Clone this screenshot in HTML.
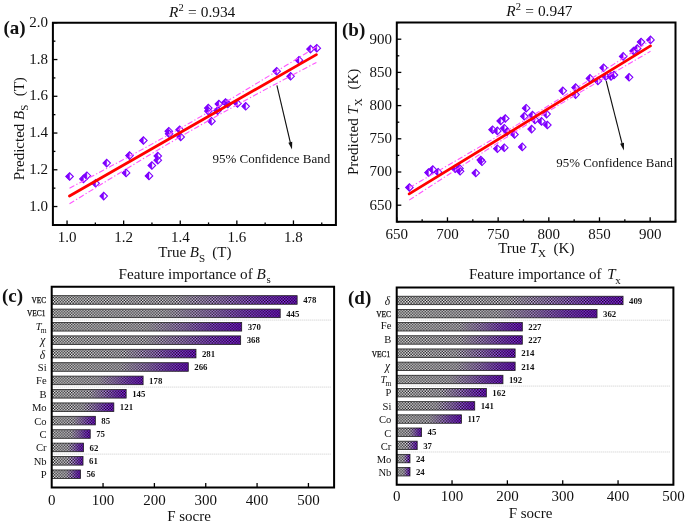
<!DOCTYPE html><html><head><meta charset="utf-8"><style>html,body{margin:0;padding:0;background:#fff;width:685px;height:523px;overflow:hidden}svg{display:block;will-change:transform}text{font-family:"Liberation Serif",serif;fill:#111}</style></head><body>
<svg width="685" height="523" viewBox="0 0 685 523">
<defs>
<pattern id="chk" x="0" y="0" width="2.84" height="2.84" patternUnits="userSpaceOnUse">
<rect x="0" y="0" width="1.42" height="1.42" fill="#000" fill-opacity="0.9"/>
<rect x="1.42" y="1.42" width="1.42" height="1.42" fill="#000" fill-opacity="0.9"/>
</pattern>
<linearGradient id="grad" x1="0" y1="0" x2="1" y2="0">
<stop offset="0" stop-color="#f6f6f6"/>
<stop offset="0.5" stop-color="#ece8f2"/>
<stop offset="0.7" stop-color="#c89cf6"/>
<stop offset="0.85" stop-color="#a450fb"/>
<stop offset="1" stop-color="#9018ff"/>
</linearGradient>
</defs>
<rect width="685" height="523" fill="#fff"/>
<path d="M65.85,176.5 L69.6,172.75 L73.35,176.5 L69.6,180.25 Z" fill="#fff" fill-opacity="0" stroke="#7f00ff" stroke-width="1.1"/>
<path d="M65.85,176.5 L69.6,172.75 L69.6,180.25 Z" fill="#7f00ff" stroke="#7f00ff" stroke-width="0.4"/>
<path d="M79.75,178.9 L83.5,175.15 L87.25,178.9 L83.5,182.65 Z" fill="#fff" fill-opacity="0" stroke="#7f00ff" stroke-width="1.1"/>
<path d="M79.75,178.9 L83.5,175.15 L83.5,182.65 Z" fill="#7f00ff" stroke="#7f00ff" stroke-width="0.4"/>
<path d="M83.15,175.7 L86.9,171.95 L90.65,175.7 L86.9,179.45 Z" fill="#fff" fill-opacity="0" stroke="#7f00ff" stroke-width="1.1"/>
<path d="M83.15,175.7 L86.9,171.95 L86.9,179.45 Z" fill="#7f00ff" stroke="#7f00ff" stroke-width="0.4"/>
<path d="M91.85,183.3 L95.6,179.55 L99.35,183.3 L95.6,187.05 Z" fill="#fff" fill-opacity="0" stroke="#7f00ff" stroke-width="1.1"/>
<path d="M91.85,183.3 L95.6,179.55 L95.6,187.05 Z" fill="#7f00ff" stroke="#7f00ff" stroke-width="0.4"/>
<path d="M99.95,196.1 L103.7,192.35 L107.45,196.1 L103.7,199.85 Z" fill="#fff" fill-opacity="0" stroke="#7f00ff" stroke-width="1.1"/>
<path d="M99.95,196.1 L103.7,192.35 L103.7,199.85 Z" fill="#7f00ff" stroke="#7f00ff" stroke-width="0.4"/>
<path d="M102.95,163.1 L106.7,159.35 L110.45,163.1 L106.7,166.85 Z" fill="#fff" fill-opacity="0" stroke="#7f00ff" stroke-width="1.1"/>
<path d="M102.95,163.1 L106.7,159.35 L106.7,166.85 Z" fill="#7f00ff" stroke="#7f00ff" stroke-width="0.4"/>
<path d="M122.35,172.9 L126.1,169.15 L129.85,172.9 L126.1,176.65 Z" fill="#fff" fill-opacity="0" stroke="#7f00ff" stroke-width="1.1"/>
<path d="M122.35,172.9 L126.1,169.15 L126.1,176.65 Z" fill="#7f00ff" stroke="#7f00ff" stroke-width="0.4"/>
<path d="M125.75,155.6 L129.5,151.85 L133.25,155.6 L129.5,159.35 Z" fill="#fff" fill-opacity="0" stroke="#7f00ff" stroke-width="1.1"/>
<path d="M125.75,155.6 L129.5,151.85 L129.5,159.35 Z" fill="#7f00ff" stroke="#7f00ff" stroke-width="0.4"/>
<path d="M139.65,140.5 L143.4,136.75 L147.15,140.5 L143.4,144.25 Z" fill="#fff" fill-opacity="0" stroke="#7f00ff" stroke-width="1.1"/>
<path d="M139.65,140.5 L143.4,136.75 L143.4,144.25 Z" fill="#7f00ff" stroke="#7f00ff" stroke-width="0.4"/>
<path d="M145.25,175.9 L149,172.15 L152.75,175.9 L149,179.65 Z" fill="#fff" fill-opacity="0" stroke="#7f00ff" stroke-width="1.1"/>
<path d="M145.25,175.9 L149,172.15 L149,179.65 Z" fill="#7f00ff" stroke="#7f00ff" stroke-width="0.4"/>
<path d="M148.15,165.5 L151.9,161.75 L155.65,165.5 L151.9,169.25 Z" fill="#fff" fill-opacity="0" stroke="#7f00ff" stroke-width="1.1"/>
<path d="M148.15,165.5 L151.9,161.75 L151.9,169.25 Z" fill="#7f00ff" stroke="#7f00ff" stroke-width="0.4"/>
<path d="M154.05,156 L157.8,152.25 L161.55,156 L157.8,159.75 Z" fill="#fff" fill-opacity="0" stroke="#7f00ff" stroke-width="1.1"/>
<path d="M154.05,156 L157.8,152.25 L157.8,159.75 Z" fill="#7f00ff" stroke="#7f00ff" stroke-width="0.4"/>
<path d="M154.05,160.2 L157.8,156.45 L161.55,160.2 L157.8,163.95 Z" fill="#fff" fill-opacity="0" stroke="#7f00ff" stroke-width="1.1"/>
<path d="M154.05,160.2 L157.8,156.45 L157.8,163.95 Z" fill="#7f00ff" stroke="#7f00ff" stroke-width="0.4"/>
<path d="M165.05,131.2 L168.8,127.45 L172.55,131.2 L168.8,134.95 Z" fill="#fff" fill-opacity="0" stroke="#7f00ff" stroke-width="1.1"/>
<path d="M165.05,131.2 L168.8,127.45 L168.8,134.95 Z" fill="#7f00ff" stroke="#7f00ff" stroke-width="0.4"/>
<path d="M165.35,133.8 L169.1,130.05 L172.85,133.8 L169.1,137.55 Z" fill="#fff" fill-opacity="0" stroke="#7f00ff" stroke-width="1.1"/>
<path d="M165.35,133.8 L169.1,130.05 L169.1,137.55 Z" fill="#7f00ff" stroke="#7f00ff" stroke-width="0.4"/>
<path d="M175.95,129.7 L179.7,125.95 L183.45,129.7 L179.7,133.45 Z" fill="#fff" fill-opacity="0" stroke="#7f00ff" stroke-width="1.1"/>
<path d="M175.95,129.7 L179.7,125.95 L179.7,133.45 Z" fill="#7f00ff" stroke="#7f00ff" stroke-width="0.4"/>
<path d="M176.95,137 L180.7,133.25 L184.45,137 L180.7,140.75 Z" fill="#fff" fill-opacity="0" stroke="#7f00ff" stroke-width="1.1"/>
<path d="M176.95,137 L180.7,133.25 L180.7,140.75 Z" fill="#7f00ff" stroke="#7f00ff" stroke-width="0.4"/>
<path d="M204.55,108.1 L208.3,104.35 L212.05,108.1 L208.3,111.85 Z" fill="#fff" fill-opacity="0" stroke="#7f00ff" stroke-width="1.1"/>
<path d="M204.55,108.1 L208.3,104.35 L208.3,111.85 Z" fill="#7f00ff" stroke="#7f00ff" stroke-width="0.4"/>
<path d="M204.65,111.1 L208.4,107.35 L212.15,111.1 L208.4,114.85 Z" fill="#fff" fill-opacity="0" stroke="#7f00ff" stroke-width="1.1"/>
<path d="M204.65,111.1 L208.4,107.35 L208.4,114.85 Z" fill="#7f00ff" stroke="#7f00ff" stroke-width="0.4"/>
<path d="M207.75,121.2 L211.5,117.45 L215.25,121.2 L211.5,124.95 Z" fill="#fff" fill-opacity="0" stroke="#7f00ff" stroke-width="1.1"/>
<path d="M207.75,121.2 L211.5,117.45 L211.5,124.95 Z" fill="#7f00ff" stroke="#7f00ff" stroke-width="0.4"/>
<path d="M213.85,110.6 L217.6,106.85 L221.35,110.6 L217.6,114.35 Z" fill="#fff" fill-opacity="0" stroke="#7f00ff" stroke-width="1.1"/>
<path d="M213.85,110.6 L217.6,106.85 L217.6,114.35 Z" fill="#7f00ff" stroke="#7f00ff" stroke-width="0.4"/>
<path d="M215.15,104 L218.9,100.25 L222.65,104 L218.9,107.75 Z" fill="#fff" fill-opacity="0" stroke="#7f00ff" stroke-width="1.1"/>
<path d="M215.15,104 L218.9,100.25 L218.9,107.75 Z" fill="#7f00ff" stroke="#7f00ff" stroke-width="0.4"/>
<path d="M221.75,102.5 L225.5,98.75 L229.25,102.5 L225.5,106.25 Z" fill="#fff" fill-opacity="0" stroke="#7f00ff" stroke-width="1.1"/>
<path d="M221.75,102.5 L225.5,98.75 L225.5,106.25 Z" fill="#7f00ff" stroke="#7f00ff" stroke-width="0.4"/>
<path d="M224.05,103.9 L227.8,100.15 L231.55,103.9 L227.8,107.65 Z" fill="#fff" fill-opacity="0" stroke="#7f00ff" stroke-width="1.1"/>
<path d="M224.05,103.9 L227.8,100.15 L227.8,107.65 Z" fill="#7f00ff" stroke="#7f00ff" stroke-width="0.4"/>
<path d="M233.75,103.5 L237.5,99.75 L241.25,103.5 L237.5,107.25 Z" fill="#fff" fill-opacity="0" stroke="#7f00ff" stroke-width="1.1"/>
<path d="M233.75,103.5 L237.5,99.75 L237.5,107.25 Z" fill="#7f00ff" stroke="#7f00ff" stroke-width="0.4"/>
<path d="M241.95,106.3 L245.7,102.55 L249.45,106.3 L245.7,110.05 Z" fill="#fff" fill-opacity="0" stroke="#7f00ff" stroke-width="1.1"/>
<path d="M241.95,106.3 L245.7,102.55 L245.7,110.05 Z" fill="#7f00ff" stroke="#7f00ff" stroke-width="0.4"/>
<path d="M272.95,71.2 L276.7,67.45 L280.45,71.2 L276.7,74.95 Z" fill="#fff" fill-opacity="0" stroke="#7f00ff" stroke-width="1.1"/>
<path d="M272.95,71.2 L276.7,67.45 L276.7,74.95 Z" fill="#7f00ff" stroke="#7f00ff" stroke-width="0.4"/>
<path d="M286.85,76.3 L290.6,72.55 L294.35,76.3 L290.6,80.05 Z" fill="#fff" fill-opacity="0" stroke="#7f00ff" stroke-width="1.1"/>
<path d="M286.85,76.3 L290.6,72.55 L290.6,80.05 Z" fill="#7f00ff" stroke="#7f00ff" stroke-width="0.4"/>
<path d="M295.25,60.2 L299,56.45 L302.75,60.2 L299,63.95 Z" fill="#fff" fill-opacity="0" stroke="#7f00ff" stroke-width="1.1"/>
<path d="M295.25,60.2 L299,56.45 L299,63.95 Z" fill="#7f00ff" stroke="#7f00ff" stroke-width="0.4"/>
<path d="M306.75,49.1 L310.5,45.35 L314.25,49.1 L310.5,52.85 Z" fill="#fff" fill-opacity="0" stroke="#7f00ff" stroke-width="1.1"/>
<path d="M306.75,49.1 L310.5,45.35 L310.5,52.85 Z" fill="#7f00ff" stroke="#7f00ff" stroke-width="0.4"/>
<path d="M313.05,48.2 L316.8,44.45 L320.55,48.2 L316.8,51.95 Z" fill="#fff" fill-opacity="0" stroke="#7f00ff" stroke-width="1.1"/>
<path d="M313.05,48.2 L316.8,44.45 L316.8,51.95 Z" fill="#7f00ff" stroke="#7f00ff" stroke-width="0.4"/>
<path d="M69.5,188.2 L73.61,186.03 L77.73,183.85 L81.84,181.67 L85.96,179.5 L90.08,177.31 L94.19,175.13 L98.3,172.94 L102.42,170.75 L106.53,168.56 L110.65,166.36 L114.76,164.16 L118.88,161.96 L123,159.75 L127.11,157.54 L131.22,155.32 L135.34,153.09 L139.45,150.86 L143.57,148.62 L147.69,146.38 L151.8,144.13 L155.91,141.87 L160.03,139.6 L164.14,137.32 L168.26,135.04 L172.38,132.74 L176.49,130.44 L180.6,128.12 L184.72,125.79 L188.83,123.45 L192.95,121.1 L197.06,118.74 L201.18,116.36 L205.29,113.98 L209.41,111.58 L213.53,109.18 L217.64,106.76 L221.75,104.33 L225.87,101.9 L229.98,99.45 L234.1,97 L238.22,94.54 L242.33,92.07 L246.44,89.59 L250.56,87.11 L254.67,84.62 L258.79,82.13 L262.9,79.63 L267.02,77.12 L271.13,74.61 L275.25,72.1 L279.37,69.58 L283.48,67.06 L287.59,64.54 L291.71,62.01 L295.82,59.49 L299.94,56.95 L304.05,54.42 L308.17,51.88 L312.28,49.34 L316.4,46.8" fill="none" stroke="#ff55ff" stroke-width="1.1" stroke-dasharray="5.5,2.2,1.3,2.2"/>
<path d="M69.5,203.8 L73.61,201.26 L77.73,198.72 L81.84,196.19 L85.96,193.65 L90.08,191.12 L94.19,188.59 L98.3,186.06 L102.42,183.54 L106.53,181.02 L110.65,178.5 L114.76,175.99 L118.88,173.48 L123,170.98 L127.11,168.48 L131.22,165.98 L135.34,163.49 L139.45,161.01 L143.57,158.54 L147.69,156.07 L151.8,153.6 L155.91,151.15 L160.03,148.71 L164.14,146.27 L168.26,143.84 L172.38,141.42 L176.49,139.02 L180.6,136.62 L184.72,134.24 L188.83,131.86 L192.95,129.5 L197.06,127.15 L201.18,124.81 L205.29,122.48 L209.41,120.16 L213.53,117.86 L217.64,115.56 L221.75,113.27 L225.87,111 L229.98,108.73 L234.1,106.47 L238.22,104.22 L242.33,101.97 L246.44,99.74 L250.56,97.51 L254.67,95.28 L258.79,93.06 L262.9,90.85 L267.02,88.64 L271.13,86.43 L275.25,84.23 L279.37,82.04 L283.48,79.84 L287.59,77.65 L291.71,75.47 L295.82,73.28 L299.94,71.1 L304.05,68.92 L308.17,66.74 L312.28,64.57 L316.4,62.4" fill="none" stroke="#ff55ff" stroke-width="1.1" stroke-dasharray="5.5,2.2,1.3,2.2"/>
<line x1="69.5" y1="196" x2="316.4" y2="54.6" stroke="#ff0000" stroke-width="2.8" stroke-linecap="round"/>
<line x1="67.05" y1="224.9" x2="67.05" y2="220.4" stroke="#000" stroke-width="1.3" />
<line x1="95.35" y1="224.9" x2="95.35" y2="222.4" stroke="#000" stroke-width="1.3" />
<line x1="123.65" y1="224.9" x2="123.65" y2="220.4" stroke="#000" stroke-width="1.3" />
<line x1="151.95" y1="224.9" x2="151.95" y2="222.4" stroke="#000" stroke-width="1.3" />
<line x1="180.25" y1="224.9" x2="180.25" y2="220.4" stroke="#000" stroke-width="1.3" />
<line x1="208.55" y1="224.9" x2="208.55" y2="222.4" stroke="#000" stroke-width="1.3" />
<line x1="236.85" y1="224.9" x2="236.85" y2="220.4" stroke="#000" stroke-width="1.3" />
<line x1="265.15" y1="224.9" x2="265.15" y2="222.4" stroke="#000" stroke-width="1.3" />
<line x1="293.45" y1="224.9" x2="293.45" y2="220.4" stroke="#000" stroke-width="1.3" />
<line x1="321.75" y1="224.9" x2="321.75" y2="222.4" stroke="#000" stroke-width="1.3" />
<line x1="52.9" y1="224.9" x2="55.4" y2="224.9" stroke="#000" stroke-width="1.3" />
<line x1="52.9" y1="206.53" x2="57.4" y2="206.53" stroke="#000" stroke-width="1.3" />
<line x1="52.9" y1="188.15" x2="55.4" y2="188.15" stroke="#000" stroke-width="1.3" />
<line x1="52.9" y1="169.78" x2="57.4" y2="169.78" stroke="#000" stroke-width="1.3" />
<line x1="52.9" y1="151.41" x2="55.4" y2="151.41" stroke="#000" stroke-width="1.3" />
<line x1="52.9" y1="133.04" x2="57.4" y2="133.04" stroke="#000" stroke-width="1.3" />
<line x1="52.9" y1="114.66" x2="55.4" y2="114.66" stroke="#000" stroke-width="1.3" />
<line x1="52.9" y1="96.29" x2="57.4" y2="96.29" stroke="#000" stroke-width="1.3" />
<line x1="52.9" y1="77.92" x2="55.4" y2="77.92" stroke="#000" stroke-width="1.3" />
<line x1="52.9" y1="59.55" x2="57.4" y2="59.55" stroke="#000" stroke-width="1.3" />
<line x1="52.9" y1="41.17" x2="55.4" y2="41.17" stroke="#000" stroke-width="1.3" />
<line x1="52.9" y1="22.8" x2="57.4" y2="22.8" stroke="#000" stroke-width="1.3" />
<path d="M52.9,22.8 H335.9 V224.9 H52.9 Z" fill="none" stroke="#000" stroke-width="2"/>
<text x="67.05" y="242" font-size="15" text-anchor="middle" font-weight="normal" font-style="normal" >1.0</text>
<text x="123.65" y="242" font-size="15" text-anchor="middle" font-weight="normal" font-style="normal" >1.2</text>
<text x="180.25" y="242" font-size="15" text-anchor="middle" font-weight="normal" font-style="normal" >1.4</text>
<text x="236.85" y="242" font-size="15" text-anchor="middle" font-weight="normal" font-style="normal" >1.6</text>
<text x="293.45" y="242" font-size="15" text-anchor="middle" font-weight="normal" font-style="normal" >1.8</text>
<text x="48" y="210.53" font-size="15" text-anchor="end" font-weight="normal" font-style="normal" >1.0</text>
<text x="48" y="173.78" font-size="15" text-anchor="end" font-weight="normal" font-style="normal" >1.2</text>
<text x="48" y="137.04" font-size="15" text-anchor="end" font-weight="normal" font-style="normal" >1.4</text>
<text x="48" y="100.29" font-size="15" text-anchor="end" font-weight="normal" font-style="normal" >1.6</text>
<text x="48" y="63.55" font-size="15" text-anchor="end" font-weight="normal" font-style="normal" >1.8</text>
<text x="48" y="26.8" font-size="15" text-anchor="end" font-weight="normal" font-style="normal" >2.0</text>
<text x="3.5" y="34" font-size="19" text-anchor="start" font-weight="bold" font-style="normal" >(a)</text>
<text y="17" font-size="15.4"><tspan x="169.1" font-style="italic">R</tspan><tspan x="178.5" y="11.4" font-size="10.5">2</tspan><tspan x="188.1" y="17">=</tspan><tspan x="200.7">0.934</tspan></text>
<text x="158.3" y="257.4" font-size="15">True <tspan font-style="italic">B</tspan><tspan font-size="11" dy="4.2">S</tspan><tspan dy="-4.2" x="212.3">(T)</tspan></text>
<text transform="translate(23.5,180.3) rotate(-90)" x="0" y="0" font-size="15">Predicted <tspan font-style="italic">B</tspan><tspan font-size="11" dy="4">S</tspan><tspan dy="-4" x="84">(T)</tspan></text>
<text x="212.5" y="162.9" font-size="13" text-anchor="start" font-weight="normal" font-style="normal" >95% Confidence Band</text>
<line x1="276.9" y1="85.3" x2="290.74" y2="144.25" stroke="#111" stroke-width="1.1"/>
<path d="M292,149.6 L292.23,141.84 L288.34,142.76 Z" fill="#111"/>
<path d="M405.65,187.5 L409.4,183.75 L413.15,187.5 L409.4,191.25 Z" fill="#fff" fill-opacity="0" stroke="#7f00ff" stroke-width="1.1"/>
<path d="M405.65,187.5 L409.4,183.75 L409.4,191.25 Z" fill="#7f00ff" stroke="#7f00ff" stroke-width="0.4"/>
<path d="M424.75,172.6 L428.5,168.85 L432.25,172.6 L428.5,176.35 Z" fill="#fff" fill-opacity="0" stroke="#7f00ff" stroke-width="1.1"/>
<path d="M424.75,172.6 L428.5,168.85 L428.5,176.35 Z" fill="#7f00ff" stroke="#7f00ff" stroke-width="0.4"/>
<path d="M429.05,169.5 L432.8,165.75 L436.55,169.5 L432.8,173.25 Z" fill="#fff" fill-opacity="0" stroke="#7f00ff" stroke-width="1.1"/>
<path d="M429.05,169.5 L432.8,165.75 L432.8,173.25 Z" fill="#7f00ff" stroke="#7f00ff" stroke-width="0.4"/>
<path d="M434.45,172.2 L438.2,168.45 L441.95,172.2 L438.2,175.95 Z" fill="#fff" fill-opacity="0" stroke="#7f00ff" stroke-width="1.1"/>
<path d="M434.45,172.2 L438.2,168.45 L438.2,175.95 Z" fill="#7f00ff" stroke="#7f00ff" stroke-width="0.4"/>
<path d="M451.45,168.7 L455.2,164.95 L458.95,168.7 L455.2,172.45 Z" fill="#fff" fill-opacity="0" stroke="#7f00ff" stroke-width="1.1"/>
<path d="M451.45,168.7 L455.2,164.95 L455.2,172.45 Z" fill="#7f00ff" stroke="#7f00ff" stroke-width="0.4"/>
<path d="M455.75,168.4 L459.5,164.65 L463.25,168.4 L459.5,172.15 Z" fill="#fff" fill-opacity="0" stroke="#7f00ff" stroke-width="1.1"/>
<path d="M455.75,168.4 L459.5,164.65 L459.5,172.15 Z" fill="#7f00ff" stroke="#7f00ff" stroke-width="0.4"/>
<path d="M456.35,171.3 L460.1,167.55 L463.85,171.3 L460.1,175.05 Z" fill="#fff" fill-opacity="0" stroke="#7f00ff" stroke-width="1.1"/>
<path d="M456.35,171.3 L460.1,167.55 L460.1,175.05 Z" fill="#7f00ff" stroke="#7f00ff" stroke-width="0.4"/>
<path d="M472.05,173 L475.8,169.25 L479.55,173 L475.8,176.75 Z" fill="#fff" fill-opacity="0" stroke="#7f00ff" stroke-width="1.1"/>
<path d="M472.05,173 L475.8,169.25 L475.8,176.75 Z" fill="#7f00ff" stroke="#7f00ff" stroke-width="0.4"/>
<path d="M477.05,160 L480.8,156.25 L484.55,160 L480.8,163.75 Z" fill="#fff" fill-opacity="0" stroke="#7f00ff" stroke-width="1.1"/>
<path d="M477.05,160 L480.8,156.25 L480.8,163.75 Z" fill="#7f00ff" stroke="#7f00ff" stroke-width="0.4"/>
<path d="M478.25,161.8 L482,158.05 L485.75,161.8 L482,165.55 Z" fill="#fff" fill-opacity="0" stroke="#7f00ff" stroke-width="1.1"/>
<path d="M478.25,161.8 L482,158.05 L482,165.55 Z" fill="#7f00ff" stroke="#7f00ff" stroke-width="0.4"/>
<path d="M488.85,129.7 L492.6,125.95 L496.35,129.7 L492.6,133.45 Z" fill="#fff" fill-opacity="0" stroke="#7f00ff" stroke-width="1.1"/>
<path d="M488.85,129.7 L492.6,125.95 L492.6,133.45 Z" fill="#7f00ff" stroke="#7f00ff" stroke-width="0.4"/>
<path d="M493.65,130.9 L497.4,127.15 L501.15,130.9 L497.4,134.65 Z" fill="#fff" fill-opacity="0" stroke="#7f00ff" stroke-width="1.1"/>
<path d="M493.65,130.9 L497.4,127.15 L497.4,134.65 Z" fill="#7f00ff" stroke="#7f00ff" stroke-width="0.4"/>
<path d="M496.95,121 L500.7,117.25 L504.45,121 L500.7,124.75 Z" fill="#fff" fill-opacity="0" stroke="#7f00ff" stroke-width="1.1"/>
<path d="M496.95,121 L500.7,117.25 L500.7,124.75 Z" fill="#7f00ff" stroke="#7f00ff" stroke-width="0.4"/>
<path d="M501.55,118.5 L505.3,114.75 L509.05,118.5 L505.3,122.25 Z" fill="#fff" fill-opacity="0" stroke="#7f00ff" stroke-width="1.1"/>
<path d="M501.55,118.5 L505.3,114.75 L505.3,122.25 Z" fill="#7f00ff" stroke="#7f00ff" stroke-width="0.4"/>
<path d="M500.55,128.2 L504.3,124.45 L508.05,128.2 L504.3,131.95 Z" fill="#fff" fill-opacity="0" stroke="#7f00ff" stroke-width="1.1"/>
<path d="M500.55,128.2 L504.3,124.45 L504.3,131.95 Z" fill="#7f00ff" stroke="#7f00ff" stroke-width="0.4"/>
<path d="M503.45,131.6 L507.2,127.85 L510.95,131.6 L507.2,135.35 Z" fill="#fff" fill-opacity="0" stroke="#7f00ff" stroke-width="1.1"/>
<path d="M503.45,131.6 L507.2,127.85 L507.2,135.35 Z" fill="#7f00ff" stroke="#7f00ff" stroke-width="0.4"/>
<path d="M510.75,134.5 L514.5,130.75 L518.25,134.5 L514.5,138.25 Z" fill="#fff" fill-opacity="0" stroke="#7f00ff" stroke-width="1.1"/>
<path d="M510.75,134.5 L514.5,130.75 L514.5,138.25 Z" fill="#7f00ff" stroke="#7f00ff" stroke-width="0.4"/>
<path d="M493.65,148.7 L497.4,144.95 L501.15,148.7 L497.4,152.45 Z" fill="#fff" fill-opacity="0" stroke="#7f00ff" stroke-width="1.1"/>
<path d="M493.65,148.7 L497.4,144.95 L497.4,152.45 Z" fill="#7f00ff" stroke="#7f00ff" stroke-width="0.4"/>
<path d="M500.55,147.7 L504.3,143.95 L508.05,147.7 L504.3,151.45 Z" fill="#fff" fill-opacity="0" stroke="#7f00ff" stroke-width="1.1"/>
<path d="M500.55,147.7 L504.3,143.95 L504.3,151.45 Z" fill="#7f00ff" stroke="#7f00ff" stroke-width="0.4"/>
<path d="M518.55,146.9 L522.3,143.15 L526.05,146.9 L522.3,150.65 Z" fill="#fff" fill-opacity="0" stroke="#7f00ff" stroke-width="1.1"/>
<path d="M518.55,146.9 L522.3,143.15 L522.3,150.65 Z" fill="#7f00ff" stroke="#7f00ff" stroke-width="0.4"/>
<path d="M522.45,108.2 L526.2,104.45 L529.95,108.2 L526.2,111.95 Z" fill="#fff" fill-opacity="0" stroke="#7f00ff" stroke-width="1.1"/>
<path d="M522.45,108.2 L526.2,104.45 L526.2,111.95 Z" fill="#7f00ff" stroke="#7f00ff" stroke-width="0.4"/>
<path d="M520.55,116.3 L524.3,112.55 L528.05,116.3 L524.3,120.05 Z" fill="#fff" fill-opacity="0" stroke="#7f00ff" stroke-width="1.1"/>
<path d="M520.55,116.3 L524.3,112.55 L524.3,120.05 Z" fill="#7f00ff" stroke="#7f00ff" stroke-width="0.4"/>
<path d="M528.75,115.1 L532.5,111.35 L536.25,115.1 L532.5,118.85 Z" fill="#fff" fill-opacity="0" stroke="#7f00ff" stroke-width="1.1"/>
<path d="M528.75,115.1 L532.5,111.35 L532.5,118.85 Z" fill="#7f00ff" stroke="#7f00ff" stroke-width="0.4"/>
<path d="M531.25,119.9 L535,116.15 L538.75,119.9 L535,123.65 Z" fill="#fff" fill-opacity="0" stroke="#7f00ff" stroke-width="1.1"/>
<path d="M531.25,119.9 L535,116.15 L535,123.65 Z" fill="#7f00ff" stroke="#7f00ff" stroke-width="0.4"/>
<path d="M527.85,129.1 L531.6,125.35 L535.35,129.1 L531.6,132.85 Z" fill="#fff" fill-opacity="0" stroke="#7f00ff" stroke-width="1.1"/>
<path d="M527.85,129.1 L531.6,125.35 L531.6,132.85 Z" fill="#7f00ff" stroke="#7f00ff" stroke-width="0.4"/>
<path d="M537.75,121.4 L541.5,117.65 L545.25,121.4 L541.5,125.15 Z" fill="#fff" fill-opacity="0" stroke="#7f00ff" stroke-width="1.1"/>
<path d="M537.75,121.4 L541.5,117.65 L541.5,125.15 Z" fill="#7f00ff" stroke="#7f00ff" stroke-width="0.4"/>
<path d="M542.85,114.1 L546.6,110.35 L550.35,114.1 L546.6,117.85 Z" fill="#fff" fill-opacity="0" stroke="#7f00ff" stroke-width="1.1"/>
<path d="M542.85,114.1 L546.6,110.35 L546.6,117.85 Z" fill="#7f00ff" stroke="#7f00ff" stroke-width="0.4"/>
<path d="M543.65,125 L547.4,121.25 L551.15,125 L547.4,128.75 Z" fill="#fff" fill-opacity="0" stroke="#7f00ff" stroke-width="1.1"/>
<path d="M543.65,125 L547.4,121.25 L547.4,128.75 Z" fill="#7f00ff" stroke="#7f00ff" stroke-width="0.4"/>
<path d="M559.05,90.8 L562.8,87.05 L566.55,90.8 L562.8,94.55 Z" fill="#fff" fill-opacity="0" stroke="#7f00ff" stroke-width="1.1"/>
<path d="M559.05,90.8 L562.8,87.05 L562.8,94.55 Z" fill="#7f00ff" stroke="#7f00ff" stroke-width="0.4"/>
<path d="M571.85,87.6 L575.6,83.85 L579.35,87.6 L575.6,91.35 Z" fill="#fff" fill-opacity="0" stroke="#7f00ff" stroke-width="1.1"/>
<path d="M571.85,87.6 L575.6,83.85 L575.6,91.35 Z" fill="#7f00ff" stroke="#7f00ff" stroke-width="0.4"/>
<path d="M571.85,94.6 L575.6,90.85 L579.35,94.6 L575.6,98.35 Z" fill="#fff" fill-opacity="0" stroke="#7f00ff" stroke-width="1.1"/>
<path d="M571.85,94.6 L575.6,90.85 L575.6,98.35 Z" fill="#7f00ff" stroke="#7f00ff" stroke-width="0.4"/>
<path d="M586.25,78.4 L590,74.65 L593.75,78.4 L590,82.15 Z" fill="#fff" fill-opacity="0" stroke="#7f00ff" stroke-width="1.1"/>
<path d="M586.25,78.4 L590,74.65 L590,82.15 Z" fill="#7f00ff" stroke="#7f00ff" stroke-width="0.4"/>
<path d="M594.15,81 L597.9,77.25 L601.65,81 L597.9,84.75 Z" fill="#fff" fill-opacity="0" stroke="#7f00ff" stroke-width="1.1"/>
<path d="M594.15,81 L597.9,77.25 L597.9,84.75 Z" fill="#7f00ff" stroke="#7f00ff" stroke-width="0.4"/>
<path d="M599.85,67.8 L603.6,64.05 L607.35,67.8 L603.6,71.55 Z" fill="#fff" fill-opacity="0" stroke="#7f00ff" stroke-width="1.1"/>
<path d="M599.85,67.8 L603.6,64.05 L603.6,71.55 Z" fill="#7f00ff" stroke="#7f00ff" stroke-width="0.4"/>
<path d="M602.05,76.5 L605.8,72.75 L609.55,76.5 L605.8,80.25 Z" fill="#fff" fill-opacity="0" stroke="#7f00ff" stroke-width="1.1"/>
<path d="M602.05,76.5 L605.8,72.75 L605.8,80.25 Z" fill="#7f00ff" stroke="#7f00ff" stroke-width="0.4"/>
<path d="M607.25,76.4 L611,72.65 L614.75,76.4 L611,80.15 Z" fill="#fff" fill-opacity="0" stroke="#7f00ff" stroke-width="1.1"/>
<path d="M607.25,76.4 L611,72.65 L611,80.15 Z" fill="#7f00ff" stroke="#7f00ff" stroke-width="0.4"/>
<path d="M610.25,75 L614,71.25 L617.75,75 L614,78.75 Z" fill="#fff" fill-opacity="0" stroke="#7f00ff" stroke-width="1.1"/>
<path d="M610.25,75 L614,71.25 L614,78.75 Z" fill="#7f00ff" stroke="#7f00ff" stroke-width="0.4"/>
<path d="M619.45,56.4 L623.2,52.65 L626.95,56.4 L623.2,60.15 Z" fill="#fff" fill-opacity="0" stroke="#7f00ff" stroke-width="1.1"/>
<path d="M619.45,56.4 L623.2,52.65 L623.2,60.15 Z" fill="#7f00ff" stroke="#7f00ff" stroke-width="0.4"/>
<path d="M625.35,77.3 L629.1,73.55 L632.85,77.3 L629.1,81.05 Z" fill="#fff" fill-opacity="0" stroke="#7f00ff" stroke-width="1.1"/>
<path d="M625.35,77.3 L629.1,73.55 L629.1,81.05 Z" fill="#7f00ff" stroke="#7f00ff" stroke-width="0.4"/>
<path d="M629.85,51 L633.6,47.25 L637.35,51 L633.6,54.75 Z" fill="#fff" fill-opacity="0" stroke="#7f00ff" stroke-width="1.1"/>
<path d="M629.85,51 L633.6,47.25 L633.6,54.75 Z" fill="#7f00ff" stroke="#7f00ff" stroke-width="0.4"/>
<path d="M633.45,48.5 L637.2,44.75 L640.95,48.5 L637.2,52.25 Z" fill="#fff" fill-opacity="0" stroke="#7f00ff" stroke-width="1.1"/>
<path d="M633.45,48.5 L637.2,44.75 L637.2,52.25 Z" fill="#7f00ff" stroke="#7f00ff" stroke-width="0.4"/>
<path d="M637.35,42 L641.1,38.25 L644.85,42 L641.1,45.75 Z" fill="#fff" fill-opacity="0" stroke="#7f00ff" stroke-width="1.1"/>
<path d="M637.35,42 L641.1,38.25 L641.1,45.75 Z" fill="#7f00ff" stroke="#7f00ff" stroke-width="0.4"/>
<path d="M646.75,39.9 L650.5,36.15 L654.25,39.9 L650.5,43.65 Z" fill="#fff" fill-opacity="0" stroke="#7f00ff" stroke-width="1.1"/>
<path d="M646.75,39.9 L650.5,36.15 L650.5,43.65 Z" fill="#7f00ff" stroke="#7f00ff" stroke-width="0.4"/>
<path d="M409.2,187.7 L413.22,185.38 L417.24,183.07 L421.26,180.75 L425.29,178.43 L429.31,176.11 L433.33,173.79 L437.35,171.47 L441.37,169.14 L445.39,166.82 L449.42,164.49 L453.44,162.16 L457.46,159.83 L461.48,157.49 L465.5,155.15 L469.52,152.81 L473.55,150.47 L477.57,148.12 L481.59,145.77 L485.61,143.41 L489.63,141.05 L493.65,138.68 L497.68,136.31 L501.7,133.93 L505.72,131.55 L509.74,129.15 L513.76,126.75 L517.78,124.35 L521.81,121.93 L525.83,119.5 L529.85,117.07 L533.87,114.62 L537.89,112.17 L541.91,109.7 L545.94,107.22 L549.96,104.74 L553.98,102.24 L558,99.73 L562.02,97.22 L566.04,94.69 L570.07,92.16 L574.09,89.62 L578.11,87.07 L582.13,84.51 L586.15,81.95 L590.17,79.39 L594.2,76.81 L598.22,74.24 L602.24,71.66 L606.26,69.07 L610.28,66.48 L614.31,63.89 L618.33,61.3 L622.35,58.7 L626.37,56.1 L630.39,53.49 L634.41,50.89 L638.43,48.28 L642.46,45.67 L646.48,43.06 L650.5,40.45" fill="none" stroke="#ff55ff" stroke-width="1.1" stroke-dasharray="5.5,2.2,1.3,2.2"/>
<path d="M409.2,200.1 L413.22,197.48 L417.24,194.87 L421.26,192.25 L425.29,189.63 L429.31,187.02 L433.33,184.41 L437.35,181.8 L441.37,179.19 L445.39,176.58 L449.42,173.98 L453.44,171.38 L457.46,168.77 L461.48,166.18 L465.5,163.58 L469.52,160.99 L473.55,158.4 L477.57,155.82 L481.59,153.23 L485.61,150.66 L489.63,148.08 L493.65,145.52 L497.68,142.96 L501.7,140.4 L505.72,137.85 L509.74,135.31 L513.76,132.78 L517.78,130.25 L521.81,127.74 L525.83,125.23 L529.85,122.73 L533.87,120.25 L537.89,117.77 L541.91,115.3 L545.94,112.84 L549.96,110.4 L553.98,107.96 L558,105.53 L562.02,103.12 L566.04,100.71 L570.07,98.31 L574.09,95.92 L578.11,93.53 L582.13,91.15 L586.15,88.78 L590.17,86.41 L594.2,84.05 L598.22,81.7 L602.24,79.34 L606.26,76.99 L610.28,74.65 L614.31,72.31 L618.33,69.97 L622.35,67.64 L626.37,65.3 L630.39,62.97 L634.41,60.64 L638.43,58.32 L642.46,55.99 L646.48,53.67 L650.5,51.35" fill="none" stroke="#ff55ff" stroke-width="1.1" stroke-dasharray="5.5,2.2,1.3,2.2"/>
<line x1="409.2" y1="193.9" x2="650.5" y2="45.9" stroke="#ff0000" stroke-width="2.8" stroke-linecap="round"/>
<line x1="396.8" y1="221.8" x2="396.8" y2="217.3" stroke="#000" stroke-width="1.3" />
<line x1="422.14" y1="221.8" x2="422.14" y2="219.3" stroke="#000" stroke-width="1.3" />
<line x1="447.47" y1="221.8" x2="447.47" y2="217.3" stroke="#000" stroke-width="1.3" />
<line x1="472.81" y1="221.8" x2="472.81" y2="219.3" stroke="#000" stroke-width="1.3" />
<line x1="498.15" y1="221.8" x2="498.15" y2="217.3" stroke="#000" stroke-width="1.3" />
<line x1="523.48" y1="221.8" x2="523.48" y2="219.3" stroke="#000" stroke-width="1.3" />
<line x1="548.82" y1="221.8" x2="548.82" y2="217.3" stroke="#000" stroke-width="1.3" />
<line x1="574.15" y1="221.8" x2="574.15" y2="219.3" stroke="#000" stroke-width="1.3" />
<line x1="599.49" y1="221.8" x2="599.49" y2="217.3" stroke="#000" stroke-width="1.3" />
<line x1="624.83" y1="221.8" x2="624.83" y2="219.3" stroke="#000" stroke-width="1.3" />
<line x1="650.16" y1="221.8" x2="650.16" y2="217.3" stroke="#000" stroke-width="1.3" />
<line x1="675.5" y1="221.8" x2="675.5" y2="219.3" stroke="#000" stroke-width="1.3" />
<line x1="396.8" y1="221.8" x2="399.3" y2="221.8" stroke="#000" stroke-width="1.3" />
<line x1="396.8" y1="205.2" x2="401.3" y2="205.2" stroke="#000" stroke-width="1.3" />
<line x1="396.8" y1="188.6" x2="399.3" y2="188.6" stroke="#000" stroke-width="1.3" />
<line x1="396.8" y1="172" x2="401.3" y2="172" stroke="#000" stroke-width="1.3" />
<line x1="396.8" y1="155.4" x2="399.3" y2="155.4" stroke="#000" stroke-width="1.3" />
<line x1="396.8" y1="138.8" x2="401.3" y2="138.8" stroke="#000" stroke-width="1.3" />
<line x1="396.8" y1="122.2" x2="399.3" y2="122.2" stroke="#000" stroke-width="1.3" />
<line x1="396.8" y1="105.6" x2="401.3" y2="105.6" stroke="#000" stroke-width="1.3" />
<line x1="396.8" y1="89" x2="399.3" y2="89" stroke="#000" stroke-width="1.3" />
<line x1="396.8" y1="72.4" x2="401.3" y2="72.4" stroke="#000" stroke-width="1.3" />
<line x1="396.8" y1="55.8" x2="399.3" y2="55.8" stroke="#000" stroke-width="1.3" />
<line x1="396.8" y1="39.2" x2="401.3" y2="39.2" stroke="#000" stroke-width="1.3" />
<line x1="396.8" y1="22.6" x2="399.3" y2="22.6" stroke="#000" stroke-width="1.3" />
<path d="M396.8,22.6 H675.5 V221.8 H396.8 Z" fill="none" stroke="#000" stroke-width="2"/>
<text x="396.8" y="238.5" font-size="15" text-anchor="middle" font-weight="normal" font-style="normal" >650</text>
<text x="447.47" y="238.5" font-size="15" text-anchor="middle" font-weight="normal" font-style="normal" >700</text>
<text x="498.15" y="238.5" font-size="15" text-anchor="middle" font-weight="normal" font-style="normal" >750</text>
<text x="548.82" y="238.5" font-size="15" text-anchor="middle" font-weight="normal" font-style="normal" >800</text>
<text x="599.49" y="238.5" font-size="15" text-anchor="middle" font-weight="normal" font-style="normal" >850</text>
<text x="650.16" y="238.5" font-size="15" text-anchor="middle" font-weight="normal" font-style="normal" >900</text>
<text x="392" y="209.5" font-size="15" text-anchor="end" font-weight="normal" font-style="normal" >650</text>
<text x="392" y="176.3" font-size="15" text-anchor="end" font-weight="normal" font-style="normal" >700</text>
<text x="392" y="143.1" font-size="15" text-anchor="end" font-weight="normal" font-style="normal" >750</text>
<text x="392" y="109.9" font-size="15" text-anchor="end" font-weight="normal" font-style="normal" >800</text>
<text x="392" y="76.7" font-size="15" text-anchor="end" font-weight="normal" font-style="normal" >850</text>
<text x="392" y="43.5" font-size="15" text-anchor="end" font-weight="normal" font-style="normal" >900</text>
<text x="342" y="35.5" font-size="19" text-anchor="start" font-weight="bold" font-style="normal" >(b)</text>
<text y="15.8" font-size="15.4"><tspan x="506.3" font-style="italic">R</tspan><tspan x="515.7" y="10.2" font-size="10.5">2</tspan><tspan x="525.3" y="15.8">=</tspan><tspan x="537.9">0.947</tspan></text>
<text x="498.2" y="253" font-size="15">True <tspan font-style="italic">T</tspan><tspan font-size="11" dy="4.2">X</tspan><tspan dy="-4.2" x="553.6">(K)</tspan></text>
<text transform="translate(358.2,175) rotate(-90)" x="0" y="0" font-size="15">Predicted <tspan font-style="italic">T</tspan><tspan font-size="11" dy="4">X</tspan><tspan dy="-4" x="85.5">(K)</tspan></text>
<text x="556.3" y="167" font-size="12.9" text-anchor="start" font-weight="normal" font-style="normal" >95% Confidence Band</text>
<line x1="606.2" y1="81" x2="622.54" y2="145.27" stroke="#111" stroke-width="1.1"/>
<path d="M623.9,150.6 L623.99,142.84 L620.11,143.82 Z" fill="#111"/>
<line x1="51.7" y1="320.08" x2="331.1" y2="320.08" stroke="#c4c4c4" stroke-width="0.9" stroke-dasharray="1,1"/>
<line x1="51.7" y1="387.1" x2="331.1" y2="387.1" stroke="#c4c4c4" stroke-width="0.9" stroke-dasharray="1,1"/>
<line x1="51.7" y1="454.12" x2="331.1" y2="454.12" stroke="#c4c4c4" stroke-width="0.9" stroke-dasharray="1,1"/>
<rect x="51.7" y="295.68" width="245.43" height="8.58" fill="url(#grad)"/>
<rect x="51.7" y="295.68" width="245.43" height="8.58" fill="url(#chk)" stroke="#222" stroke-width="0.8"/>
<text x="303.13" y="303.17" font-size="8.8" text-anchor="start" font-weight="bold" font-style="normal" >478</text>
<text x="46.2" y="302.97" font-size="7.4" text-anchor="end" font-weight="normal" font-style="normal" stroke="#111" stroke-width="0.25">VEC</text>
<rect x="51.7" y="309.09" width="228.49" height="8.58" fill="url(#grad)"/>
<rect x="51.7" y="309.09" width="228.49" height="8.58" fill="url(#chk)" stroke="#222" stroke-width="0.8"/>
<text x="286.19" y="316.58" font-size="8.8" text-anchor="start" font-weight="bold" font-style="normal" >445</text>
<text x="45.4" y="316.38" font-size="7.4" text-anchor="end" font-weight="normal" font-style="normal" stroke="#111" stroke-width="0.25">VEC1</text>
<rect x="51.7" y="322.49" width="189.98" height="8.58" fill="url(#grad)"/>
<rect x="51.7" y="322.49" width="189.98" height="8.58" fill="url(#chk)" stroke="#222" stroke-width="0.8"/>
<text x="247.68" y="329.98" font-size="8.8" text-anchor="start" font-weight="bold" font-style="normal" >370</text>
<text x="46.6" y="329.78" font-size="10.5" text-anchor="end"><tspan font-style="italic">T</tspan><tspan font-size="7.5" dy="3" dx="-0.8">m</tspan></text>
<rect x="51.7" y="335.89" width="188.95" height="8.58" fill="url(#grad)"/>
<rect x="51.7" y="335.89" width="188.95" height="8.58" fill="url(#chk)" stroke="#222" stroke-width="0.8"/>
<text x="246.65" y="343.38" font-size="8.8" text-anchor="start" font-weight="bold" font-style="normal" >368</text>
<text x="45.3" y="343.98" font-size="11.5" text-anchor="end" font-weight="normal" font-style="italic" >χ</text>
<rect x="51.7" y="349.3" width="144.28" height="8.58" fill="url(#grad)"/>
<rect x="51.7" y="349.3" width="144.28" height="8.58" fill="url(#chk)" stroke="#222" stroke-width="0.8"/>
<text x="201.98" y="356.79" font-size="8.8" text-anchor="start" font-weight="bold" font-style="normal" >281</text>
<text x="45.2" y="359.19" font-size="11.5" text-anchor="end" font-weight="normal" font-style="italic" >δ</text>
<rect x="51.7" y="362.7" width="136.58" height="8.58" fill="url(#grad)"/>
<rect x="51.7" y="362.7" width="136.58" height="8.58" fill="url(#chk)" stroke="#222" stroke-width="0.8"/>
<text x="194.28" y="370.19" font-size="8.8" text-anchor="start" font-weight="bold" font-style="normal" >266</text>
<text x="46.6" y="370.99" font-size="10.6" text-anchor="end" font-weight="normal" font-style="normal" >Si</text>
<rect x="51.7" y="376.11" width="91.39" height="8.58" fill="url(#grad)"/>
<rect x="51.7" y="376.11" width="91.39" height="8.58" fill="url(#chk)" stroke="#222" stroke-width="0.8"/>
<text x="149.09" y="383.6" font-size="8.8" text-anchor="start" font-weight="bold" font-style="normal" >178</text>
<text x="46.6" y="384.4" font-size="10.6" text-anchor="end" font-weight="normal" font-style="normal" >Fe</text>
<rect x="51.7" y="389.51" width="74.45" height="8.58" fill="url(#grad)"/>
<rect x="51.7" y="389.51" width="74.45" height="8.58" fill="url(#chk)" stroke="#222" stroke-width="0.8"/>
<text x="132.15" y="397" font-size="8.8" text-anchor="start" font-weight="bold" font-style="normal" >145</text>
<text x="46.6" y="397.8" font-size="10.6" text-anchor="end" font-weight="normal" font-style="normal" >B</text>
<rect x="51.7" y="402.92" width="62.13" height="8.58" fill="url(#grad)"/>
<rect x="51.7" y="402.92" width="62.13" height="8.58" fill="url(#chk)" stroke="#222" stroke-width="0.8"/>
<text x="119.83" y="410.41" font-size="8.8" text-anchor="start" font-weight="bold" font-style="normal" >121</text>
<text x="46.6" y="411.21" font-size="10.6" text-anchor="end" font-weight="normal" font-style="normal" >Mo</text>
<rect x="51.7" y="416.32" width="43.64" height="8.58" fill="url(#grad)"/>
<rect x="51.7" y="416.32" width="43.64" height="8.58" fill="url(#chk)" stroke="#222" stroke-width="0.8"/>
<text x="101.34" y="423.81" font-size="8.8" text-anchor="start" font-weight="bold" font-style="normal" >85</text>
<text x="46.6" y="424.61" font-size="10.6" text-anchor="end" font-weight="normal" font-style="normal" >Co</text>
<rect x="51.7" y="429.73" width="38.51" height="8.58" fill="url(#grad)"/>
<rect x="51.7" y="429.73" width="38.51" height="8.58" fill="url(#chk)" stroke="#222" stroke-width="0.8"/>
<text x="96.21" y="437.22" font-size="8.8" text-anchor="start" font-weight="bold" font-style="normal" >75</text>
<text x="46.6" y="438.02" font-size="10.6" text-anchor="end" font-weight="normal" font-style="normal" >C</text>
<rect x="51.7" y="443.13" width="31.83" height="8.58" fill="url(#grad)"/>
<rect x="51.7" y="443.13" width="31.83" height="8.58" fill="url(#chk)" stroke="#222" stroke-width="0.8"/>
<text x="89.53" y="450.62" font-size="8.8" text-anchor="start" font-weight="bold" font-style="normal" >62</text>
<text x="46.6" y="451.42" font-size="10.6" text-anchor="end" font-weight="normal" font-style="normal" >Cr</text>
<rect x="51.7" y="456.54" width="31.32" height="8.58" fill="url(#grad)"/>
<rect x="51.7" y="456.54" width="31.32" height="8.58" fill="url(#chk)" stroke="#222" stroke-width="0.8"/>
<text x="89.02" y="464.02" font-size="8.8" text-anchor="start" font-weight="bold" font-style="normal" >61</text>
<text x="46.6" y="464.82" font-size="10.6" text-anchor="end" font-weight="normal" font-style="normal" >Nb</text>
<rect x="51.7" y="469.94" width="28.75" height="8.58" fill="url(#grad)"/>
<rect x="51.7" y="469.94" width="28.75" height="8.58" fill="url(#chk)" stroke="#222" stroke-width="0.8"/>
<text x="86.45" y="477.43" font-size="8.8" text-anchor="start" font-weight="bold" font-style="normal" >56</text>
<text x="46.6" y="478.23" font-size="10.6" text-anchor="end" font-weight="normal" font-style="normal" >P</text>
<line x1="103.05" y1="487.5" x2="103.05" y2="483" stroke="#000" stroke-width="1.3" />
<line x1="154.39" y1="487.5" x2="154.39" y2="483" stroke="#000" stroke-width="1.3" />
<line x1="205.74" y1="487.5" x2="205.74" y2="483" stroke="#000" stroke-width="1.3" />
<line x1="257.08" y1="487.5" x2="257.08" y2="483" stroke="#000" stroke-width="1.3" />
<line x1="308.43" y1="487.5" x2="308.43" y2="483" stroke="#000" stroke-width="1.3" />
<path d="M51.7,286.7 H334.1 V487.5 H51.7 Z" fill="none" stroke="#000" stroke-width="2"/>
<text x="51.7" y="504.6" font-size="15" text-anchor="middle" font-weight="normal" font-style="normal" >0</text>
<text x="103.05" y="504.6" font-size="15" text-anchor="middle" font-weight="normal" font-style="normal" >100</text>
<text x="154.39" y="504.6" font-size="15" text-anchor="middle" font-weight="normal" font-style="normal" >200</text>
<text x="205.74" y="504.6" font-size="15" text-anchor="middle" font-weight="normal" font-style="normal" >300</text>
<text x="257.08" y="504.6" font-size="15" text-anchor="middle" font-weight="normal" font-style="normal" >400</text>
<text x="308.43" y="504.6" font-size="15" text-anchor="middle" font-weight="normal" font-style="normal" >500</text>
<text x="189" y="521.2" font-size="15" text-anchor="middle" font-weight="normal" font-style="normal" >F socre</text>
<text x="2" y="302" font-size="19" text-anchor="start" font-weight="bold" font-style="normal" >(c)</text>
<text x="118.6" y="278.8" font-size="15.2">Feature importance of <tspan font-style="italic">B</tspan><tspan font-size="11" dy="4.6" dx="0.6">s</tspan></text>
<line x1="396.7" y1="320.21" x2="670.4" y2="320.21" stroke="#c4c4c4" stroke-width="0.9" stroke-dasharray="1,1"/>
<line x1="396.7" y1="386.1" x2="670.4" y2="386.1" stroke="#c4c4c4" stroke-width="0.9" stroke-dasharray="1,1"/>
<line x1="396.7" y1="451.99" x2="670.4" y2="451.99" stroke="#c4c4c4" stroke-width="0.9" stroke-dasharray="1,1"/>
<rect x="396.7" y="296.23" width="226.34" height="8.43" fill="url(#grad)"/>
<rect x="396.7" y="296.23" width="226.34" height="8.43" fill="url(#chk)" stroke="#222" stroke-width="0.8"/>
<text x="629.04" y="303.65" font-size="8.8" text-anchor="start" font-weight="bold" font-style="normal" >409</text>
<text x="390" y="305.45" font-size="11.5" text-anchor="end" font-weight="normal" font-style="italic" >δ</text>
<rect x="396.7" y="309.41" width="200.33" height="8.43" fill="url(#grad)"/>
<rect x="396.7" y="309.41" width="200.33" height="8.43" fill="url(#chk)" stroke="#222" stroke-width="0.8"/>
<text x="603.03" y="316.82" font-size="8.8" text-anchor="start" font-weight="bold" font-style="normal" >362</text>
<text x="391" y="316.82" font-size="7.4" text-anchor="end" font-weight="normal" font-style="normal" stroke="#111" stroke-width="0.25">VEC</text>
<rect x="396.7" y="322.58" width="125.62" height="8.43" fill="url(#grad)"/>
<rect x="396.7" y="322.58" width="125.62" height="8.43" fill="url(#chk)" stroke="#222" stroke-width="0.8"/>
<text x="528.32" y="330" font-size="8.8" text-anchor="start" font-weight="bold" font-style="normal" >227</text>
<text x="391.4" y="328.8" font-size="10.6" text-anchor="end" font-weight="normal" font-style="normal" >Fe</text>
<rect x="396.7" y="335.76" width="125.62" height="8.43" fill="url(#grad)"/>
<rect x="396.7" y="335.76" width="125.62" height="8.43" fill="url(#chk)" stroke="#222" stroke-width="0.8"/>
<text x="528.32" y="343.18" font-size="8.8" text-anchor="start" font-weight="bold" font-style="normal" >227</text>
<text x="391.4" y="342.78" font-size="10.6" text-anchor="end" font-weight="normal" font-style="normal" >B</text>
<rect x="396.7" y="348.94" width="118.43" height="8.43" fill="url(#grad)"/>
<rect x="396.7" y="348.94" width="118.43" height="8.43" fill="url(#chk)" stroke="#222" stroke-width="0.8"/>
<text x="521.13" y="356.36" font-size="8.8" text-anchor="start" font-weight="bold" font-style="normal" >214</text>
<text x="390.2" y="356.66" font-size="7.4" text-anchor="end" font-weight="normal" font-style="normal" stroke="#111" stroke-width="0.25">VEC1</text>
<rect x="396.7" y="362.12" width="118.43" height="8.43" fill="url(#grad)"/>
<rect x="396.7" y="362.12" width="118.43" height="8.43" fill="url(#chk)" stroke="#222" stroke-width="0.8"/>
<text x="521.13" y="369.53" font-size="8.8" text-anchor="start" font-weight="bold" font-style="normal" >214</text>
<text x="390.1" y="370.43" font-size="11.5" text-anchor="end" font-weight="normal" font-style="italic" >χ</text>
<rect x="396.7" y="375.29" width="106.25" height="8.43" fill="url(#grad)"/>
<rect x="396.7" y="375.29" width="106.25" height="8.43" fill="url(#chk)" stroke="#222" stroke-width="0.8"/>
<text x="508.95" y="382.71" font-size="8.8" text-anchor="start" font-weight="bold" font-style="normal" >192</text>
<text x="391.4" y="382.81" font-size="10.5" text-anchor="end"><tspan font-style="italic">T</tspan><tspan font-size="7.5" dy="3" dx="-0.8">m</tspan></text>
<rect x="396.7" y="388.47" width="89.65" height="8.43" fill="url(#grad)"/>
<rect x="396.7" y="388.47" width="89.65" height="8.43" fill="url(#chk)" stroke="#222" stroke-width="0.8"/>
<text x="492.35" y="395.89" font-size="8.8" text-anchor="start" font-weight="bold" font-style="normal" >162</text>
<text x="391.4" y="396.39" font-size="10.6" text-anchor="end" font-weight="normal" font-style="normal" >P</text>
<rect x="396.7" y="401.65" width="78.03" height="8.43" fill="url(#grad)"/>
<rect x="396.7" y="401.65" width="78.03" height="8.43" fill="url(#chk)" stroke="#222" stroke-width="0.8"/>
<text x="480.73" y="409.07" font-size="8.8" text-anchor="start" font-weight="bold" font-style="normal" >141</text>
<text x="391.4" y="410.17" font-size="10.6" text-anchor="end" font-weight="normal" font-style="normal" >Si</text>
<rect x="396.7" y="414.83" width="64.75" height="8.43" fill="url(#grad)"/>
<rect x="396.7" y="414.83" width="64.75" height="8.43" fill="url(#chk)" stroke="#222" stroke-width="0.8"/>
<text x="467.45" y="422.24" font-size="8.8" text-anchor="start" font-weight="bold" font-style="normal" >117</text>
<text x="391.4" y="423.34" font-size="10.6" text-anchor="end" font-weight="normal" font-style="normal" >Co</text>
<rect x="396.7" y="428" width="24.9" height="8.43" fill="url(#grad)"/>
<rect x="396.7" y="428" width="24.9" height="8.43" fill="url(#chk)" stroke="#222" stroke-width="0.8"/>
<text x="427.6" y="435.42" font-size="8.8" text-anchor="start" font-weight="bold" font-style="normal" >45</text>
<text x="391.4" y="436.52" font-size="10.6" text-anchor="end" font-weight="normal" font-style="normal" >C</text>
<rect x="396.7" y="441.18" width="20.48" height="8.43" fill="url(#grad)"/>
<rect x="396.7" y="441.18" width="20.48" height="8.43" fill="url(#chk)" stroke="#222" stroke-width="0.8"/>
<text x="423.18" y="448.6" font-size="8.8" text-anchor="start" font-weight="bold" font-style="normal" >37</text>
<text x="391.4" y="449.7" font-size="10.6" text-anchor="end" font-weight="normal" font-style="normal" >Cr</text>
<rect x="396.7" y="454.36" width="13.28" height="8.43" fill="url(#grad)"/>
<rect x="396.7" y="454.36" width="13.28" height="8.43" fill="url(#chk)" stroke="#222" stroke-width="0.8"/>
<text x="415.98" y="461.78" font-size="8.8" text-anchor="start" font-weight="bold" font-style="normal" >24</text>
<text x="391.4" y="462.88" font-size="10.6" text-anchor="end" font-weight="normal" font-style="normal" >Mo</text>
<rect x="396.7" y="467.54" width="13.28" height="8.43" fill="url(#grad)"/>
<rect x="396.7" y="467.54" width="13.28" height="8.43" fill="url(#chk)" stroke="#222" stroke-width="0.8"/>
<text x="415.98" y="474.95" font-size="8.8" text-anchor="start" font-weight="bold" font-style="normal" >24</text>
<text x="391.4" y="476.05" font-size="10.6" text-anchor="end" font-weight="normal" font-style="normal" >Nb</text>
<line x1="452.04" y1="484.8" x2="452.04" y2="480.3" stroke="#000" stroke-width="1.3" />
<line x1="507.38" y1="484.8" x2="507.38" y2="480.3" stroke="#000" stroke-width="1.3" />
<line x1="562.72" y1="484.8" x2="562.72" y2="480.3" stroke="#000" stroke-width="1.3" />
<line x1="618.06" y1="484.8" x2="618.06" y2="480.3" stroke="#000" stroke-width="1.3" />
<path d="M396.7,287.4 H673.4 V484.8 H396.7 Z" fill="none" stroke="#000" stroke-width="2"/>
<text x="396.7" y="501" font-size="15" text-anchor="middle" font-weight="normal" font-style="normal" >0</text>
<text x="452.04" y="501" font-size="15" text-anchor="middle" font-weight="normal" font-style="normal" >100</text>
<text x="507.38" y="501" font-size="15" text-anchor="middle" font-weight="normal" font-style="normal" >200</text>
<text x="562.72" y="501" font-size="15" text-anchor="middle" font-weight="normal" font-style="normal" >300</text>
<text x="618.06" y="501" font-size="15" text-anchor="middle" font-weight="normal" font-style="normal" >400</text>
<text x="673.4" y="501" font-size="15" text-anchor="middle" font-weight="normal" font-style="normal" >500</text>
<text x="530.5" y="517.5" font-size="15" text-anchor="middle" font-weight="normal" font-style="normal" >F socre</text>
<text x="348" y="304.2" font-size="19" text-anchor="start" font-weight="bold" font-style="normal" >(d)</text>
<text x="469" y="279.1" font-size="15">Feature importance of <tspan font-style="italic" x="607.2">T</tspan><tspan font-size="11" dy="4.4" x="615.2">x</tspan></text>
</svg></body></html>
